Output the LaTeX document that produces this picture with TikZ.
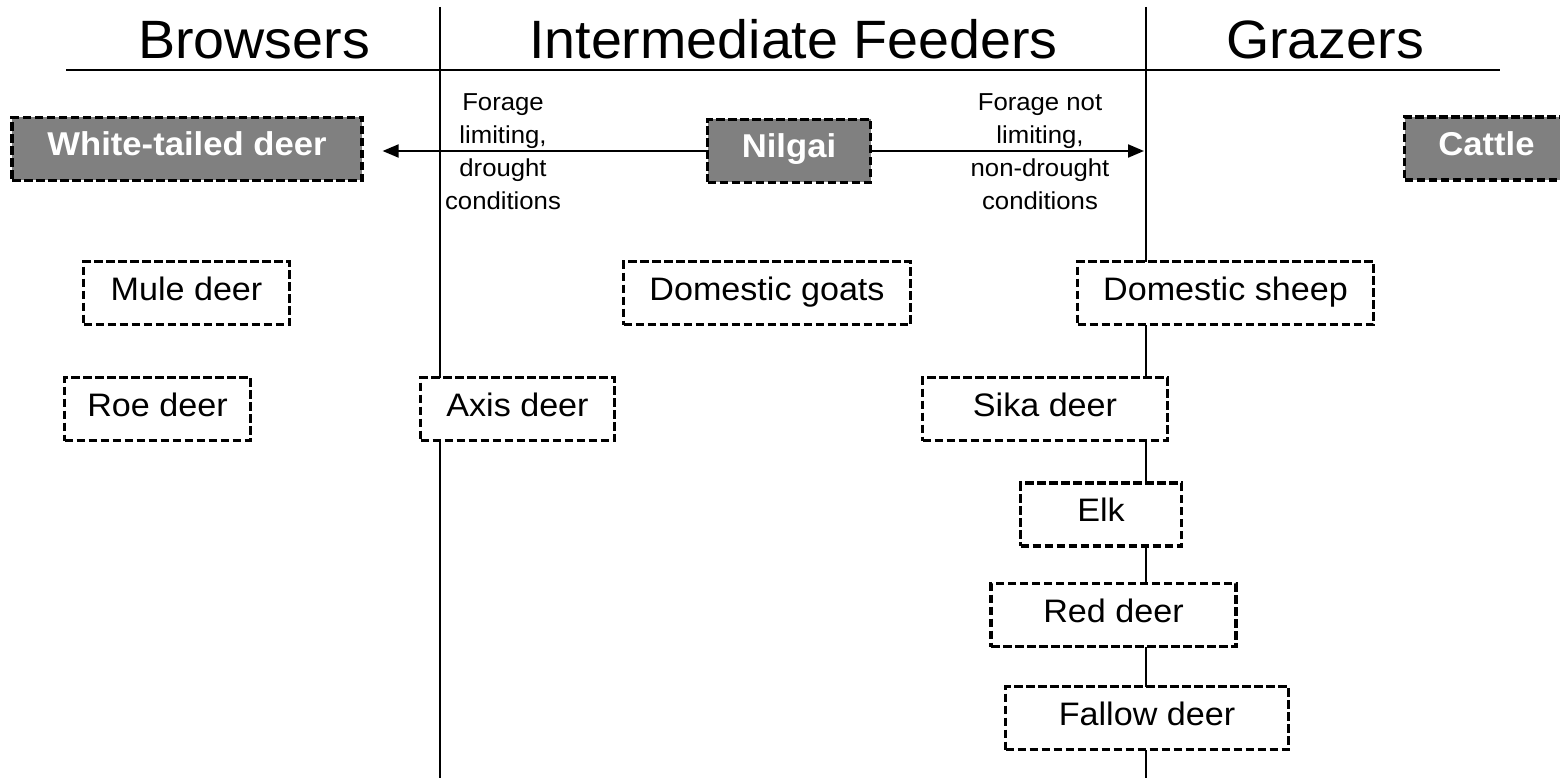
\documentclass[tikz,border=0pt]{standalone}
\usepackage{fontspec}
\setmainfont{Liberation Sans}
\newfontfamily\boxfont{Liberation Sans}[FakeStretch=1.05]
\newfontfamily\headfont{Liberation Sans}[FakeStretch=1.03]
\usetikzlibrary{arrows.meta}
\definecolor{boxgray}{RGB}{128,128,128}
\begin{document}
\begin{tikzpicture}[x=1pt,y=-1pt,
  species/.style={draw, line width=3.2pt, dash pattern=on 8.5pt off 3.5pt, fill=white,
    inner sep=0pt, minimum height=63pt, text height=23pt, text depth=9pt,
    font=\boxfont\fontsize{32.5}{36}\selectfont, text=black},
  keybox/.style={species, fill=boxgray, text=white,
    font=\boxfont\bfseries\fontsize{33}{36}\selectfont},
  divider/.style={line width=1.7pt, draw=black},
  arrowline/.style={line width=2pt, -{Triangle[length=16pt,width=13pt]}},
  header/.style={font=\headfont\fontsize{54}{60}\selectfont, anchor=base, inner sep=0pt},
  note/.style={font=\boxfont\fontsize{24.5}{33}\selectfont, align=center, inner sep=0pt}]
\useasboundingbox (0,0) rectangle (1560,778);
\clip (0,0) rectangle (1560,778);

% dividers
\coordinate (d1top) at (440,7);
\coordinate (d1bot) at (440,778);
\coordinate (d2top) at (1146,7);
\coordinate (d2bot) at (1146,778);
\coordinate (hl) at (66,70);
\coordinate (hr) at (1500,70);
\draw[divider] (d1top) -- (d1bot);
\draw[divider] (d2top) -- (d2bot);
\draw[divider] (hl) -- (hr);

% headers
\node[header] (hbrowse) at (254,58.5) {Browsers};
\node[header] (hinter) at (793.5,58.5) {Intermediate Feeders};
\node[header] (hgraze) at (1325,58.5) {Grazers};

% key species
\node[keybox, minimum width=350] (wtd) at (187,149) {White-tailed deer};
\node[keybox, minimum width=163] (nilgai) at (789,151) {Nilgai};
\node[keybox, minimum width=164] (cattle) at (1486.5,148.5) {Cattle};

% other species
\node[species, minimum width=206] (mule) at (186.5,293) {Mule deer};
\node[species, minimum width=287] (goats) at (767,293) {Domestic goats};
\node[species, minimum width=296] (sheep) at (1225.5,293) {Domestic sheep};
\node[species, minimum width=186] (roe) at (157.5,409) {Roe deer};
\node[species, minimum width=194] (axis) at (517.5,409) {Axis deer};
\node[species, minimum width=245] (sika) at (1045,409) {Sika deer};
\node[species, minimum width=161] (elk) at (1101,514.5) {Elk};
\node[species, minimum width=245] (red) at (1113.5,615) {Red deer};
\node[species, minimum width=283] (fallow) at (1147,718) {Fallow deer};

% notes
\node[note] (nleft) at (503,151.5) {Forage\\limiting,\\drought\\conditions};
\node[note] (nright) at (1040,151.5) {Forage not\\limiting,\\non-drought\\conditions};

% arrows
\coordinate (d2arrow) at (1144,151);
\draw[arrowline, shorten >=19pt] (nilgai.west) -- (wtd.east |- nilgai.west);
\draw[arrowline] (nilgai.east) -- (d2arrow);
\end{tikzpicture}
\end{document}
